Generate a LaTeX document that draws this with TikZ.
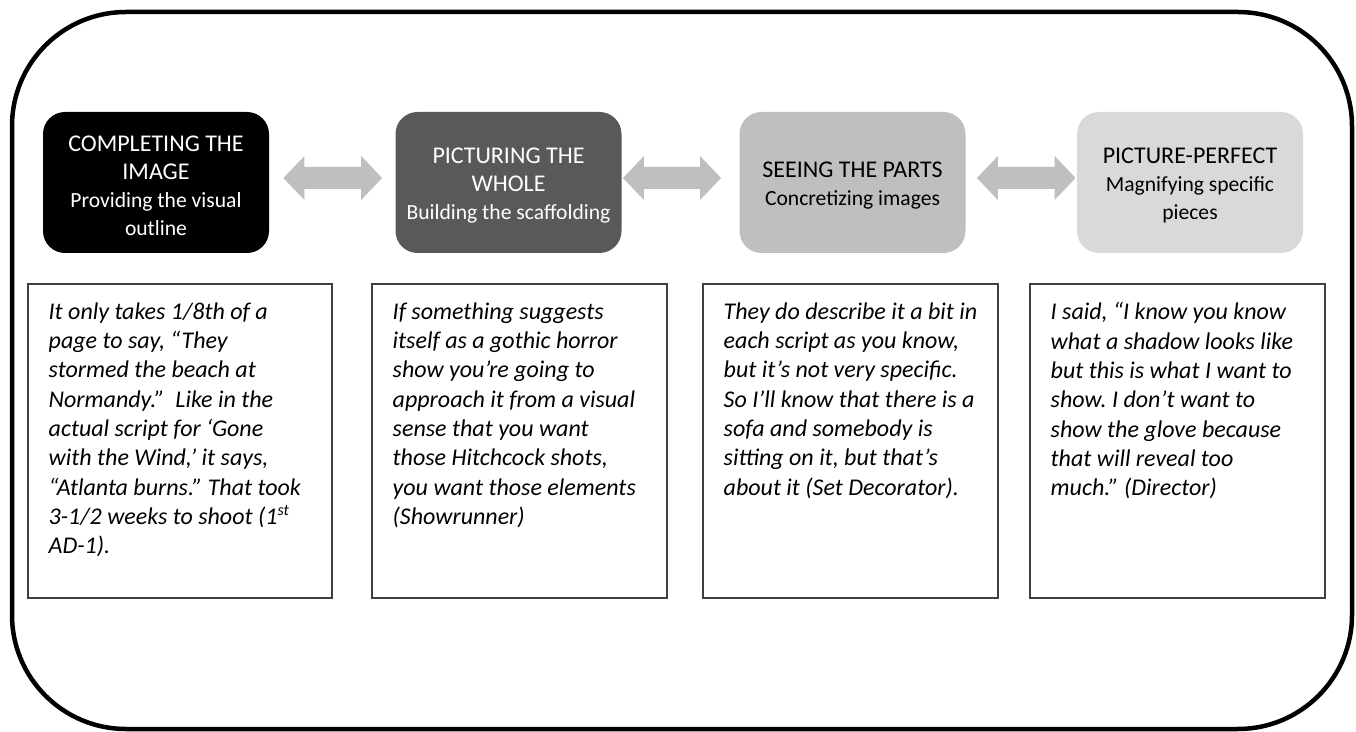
\documentclass[tikz,border=0pt]{standalone}
\usepackage{fontspec}
\setmainfont{Carlito}
\usetikzlibrary{calc}

\definecolor{stageA}{HTML}{000000}
\definecolor{stageB}{HTML}{595959}
\definecolor{stageC}{HTML}{BFBFBF}
\definecolor{stageD}{HTML}{D9D9D9}
\definecolor{arrowgray}{HTML}{BFBFBF}
\definecolor{boxline}{HTML}{404040}

\newcommand\ttlfont{\fontsize{12}{14}\selectfont}
\newcommand\subfont{\fontsize{10.8}{14}\selectfont}
\newcommand\quotefont{\fontsize{12}{14.65}\selectfont\itshape}

% two-headed block arrow between two coordinates on the same line
\newcommand\blockarrow[2]{%
  \fill[arrowgray] (#1) -- ($(#1)+(21,-22)$) -- ($(#1)+(21,-11)$)
    -- ($(#2)+(-21,-11)$) -- ($(#2)+(-21,-22)$) -- (#2)
    -- ($(#2)+(-21,22)$) -- ($(#2)+(-21,11)$)
    -- ($(#1)+(21,11)$) -- ($(#1)+(21,22)$) -- cycle;}

\begin{document}
\frenchspacing
\begin{tikzpicture}[x=0.5pt,y=-0.5pt,
  frame/.style={draw=black, line width=2.25pt, rounded corners=57pt},
  hdr/.style={rounded corners=11pt, minimum width=113pt, minimum height=70.5pt,
    inner sep=0pt},
  hdrtext/.style={align=center, inner sep=0pt, font=\ttlfont},
  quotebox/.style={draw=boxline, line width=0.7pt, minimum height=157pt, inner sep=0pt},
  quote/.style={anchor=north west, align=left, inner sep=0pt, font=\quotefont}
]
\useasboundingbox (0,0) rectangle (1356,732);

% outer frame
\draw[frame] (12,12) rectangle (1352,729);

% stage headers
\node[hdr, fill=stageA] (h1) at (156,182.5) {};
\node[hdr, fill=stageB] (h2) at (508.5,182.5) {};
\node[hdr, fill=stageC] (h3) at (852.5,182.5) {};
\node[hdr, fill=stageD] (h4) at (1190,182.5) {};

\node[hdrtext, text=white] (t1) at ($(h1.center)+(0,3)$)
  {COMPLETING THE\\IMAGE\\\subfont Providing the visual\\\subfont outline};
\node[hdrtext, text=white] (t2) at ($(h2.center)+(0,3)$)
  {PICTURING THE\\WHOLE\\\subfont Building the scaffolding};
\node[hdrtext, text=black] (t3) at ($(h3.center)+(0,3)$)
  {SEEING THE PARTS\\\subfont Concretizing images};
\node[hdrtext, text=black] (t4) at ($(h4.center)+(0,3)$)
  {PICTURE-PERFECT\\\subfont Magnifying specific\\\subfont pieces};

% arrows between stages
\coordinate (a1l) at ($(h1.east)+(14,-4.5)$);
\coordinate (a1r) at ($(h2.west)+(-13,-4.5)$);
\coordinate (a2l) at ($(h2.east)+(1,-4.5)$);
\coordinate (a2r) at ($(h3.west)+(-18,-4.5)$);
\coordinate (a3l) at ($(h3.east)+(11,-4.5)$);
\coordinate (a3r) at ($(h4.west)+(-1,-4.5)$);
\blockarrow{a1l}{a1r}
\blockarrow{a2l}{a2r}
\blockarrow{a3l}{a3r}

% quotation boxes
\node[quotebox, minimum width=152pt] (b1) at (180,441) {};
\node[quotebox, minimum width=147.5pt] (b2) at (519.5,441) {};
\node[quotebox, minimum width=147.5pt] (b3) at (850.5,441) {};
\node[quotebox, minimum width=147.5pt] (b4) at (1177.5,441) {};

\node[quote] (q1) at ($(b1.north west)+(21,19)$)
  {It only takes 1/8th of a\\
   page to say, “They\\
   stormed the beach at\\
   Normandy.”\ \ Like in the\\
   actual script for ‘Gone\\
   with the Wind,’ it says,\\
   “Atlanta burns.” That took\\
   3-1/2 weeks to shoot (1\textsuperscript{st}\\
   AD-1).};
\node[quote] (q2) at ($(b2.north west)+(21,19)$)
  {If something suggests\\
   itself as a gothic horror\\
   show you’re going to\\
   approach it from a visual\\
   sense that you want\\
   those Hitchcock shots,\\
   you want those elements\\
   (Showrunner)};
\node[quote] (q3) at ($(b3.north west)+(21,19)$)
  {They do describe it a bit in\\
   each script as you know,\\
   but it’s not very specific.\\
   So I’ll know that there is a\\
   sofa and somebody is\\
   sitting on it, but that’s\\
   about it (Set Decorator).};
\node[quote] (q4) at ($(b4.north west)+(21,19)$)
  {I said, “I know you know\\
   what a shadow looks like\\
   but this is what I want to\\
   show. I don’t want to\\
   show the glove because\\
   that will reveal too\\
   much.” (Director)};
\end{tikzpicture}
\end{document}
